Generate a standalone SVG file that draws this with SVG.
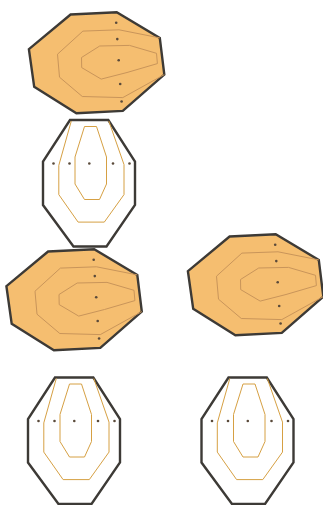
<svg xmlns="http://www.w3.org/2000/svg" xmlns:xlink="http://www.w3.org/1999/xlink" width="323" height="505" viewBox="0 0 323 505">
<style>
.outerO{fill:#F5BE70;stroke:#3d3a36;stroke-width:2.4;stroke-linejoin:miter}
.zoneO{fill:none;stroke:#C9955A;stroke-width:1}
.outerV{fill:#fff;stroke:#3d3a36;stroke-width:2.4;stroke-linejoin:miter}
.zoneV{fill:none;stroke:#D6A043;stroke-width:1}
.dot{fill:#5a4a3a}
</style>
<defs>
<g id="orangeTarget">
<polygon class="outerO" points="70.6,14.5 116.7,12.3 159.8,37.9 164.3,74.6 122.8,110.9 76.4,113.3 34.2,86.8 28.9,49.2"/>
<polyline class="zoneO" points="159.8,37.9 119,29.8 82.9,31.1 57.5,54.2 59.5,77.2 82.3,96.5 122.8,97.6 164.3,74.6"/>
<polygon class="zoneO" points="81.5,57.5 99.7,46 129.5,45.4 156.5,53.3 157.4,63.6 127,72.5 101.2,79.1 81.7,67.6"/>
<circle class="dot" cx="116.2" cy="22.7" r="1.3"/>
<circle class="dot" cx="117.3" cy="39.1" r="1.3"/>
<circle class="dot" cx="118.7" cy="60.2" r="1.3"/>
<circle class="dot" cx="120.2" cy="84" r="1.3"/>
<circle class="dot" cx="121.6" cy="101.5" r="1.3"/>
</g>
<g id="whiteTarget">
<polygon class="outerV" points="70,120 108.3,120 135,161.5 135,205 106.5,246.5 73.5,246.5 43,205 43,161.5"/>
<polyline class="zoneV" points="71.3,121 58.8,165.4 58.8,194.6 78.1,222.1 104.3,222.1 124,194.6 124,164.6 108.8,121"/>
<polygon class="zoneV" points="84.5,126.5 96.5,126.5 106.5,157 106.5,184 99.5,199.5 84.5,199.5 75,184 75,157"/>
<circle class="dot" cx="53.5" cy="163.5" r="1.3"/>
<circle class="dot" cx="69.5" cy="163.5" r="1.3"/>
<circle class="dot" cx="89.3" cy="163.5" r="1.3"/>
<circle class="dot" cx="113" cy="163.5" r="1.3"/>
<circle class="dot" cx="129.5" cy="163.5" r="1.3"/>
</g>
</defs>
<rect width="323" height="505" fill="#fff"/>
<g id="connectors"></g>
<g id="node-o1"><use href="#orangeTarget" xlink:href="#orangeTarget"/></g>
<g id="node-v1"><use href="#whiteTarget" xlink:href="#whiteTarget"/></g>
<g id="node-o2"><use href="#orangeTarget" xlink:href="#orangeTarget" transform="translate(-22.5,237)"/></g>
<g id="node-o3"><use href="#orangeTarget" xlink:href="#orangeTarget" transform="translate(159,222)"/></g>
<g id="node-v2"><use href="#whiteTarget" xlink:href="#whiteTarget" transform="translate(-15,257.5)"/></g>
<g id="node-v3"><use href="#whiteTarget" xlink:href="#whiteTarget" transform="translate(158.5,257.5)"/></g>
</svg>
